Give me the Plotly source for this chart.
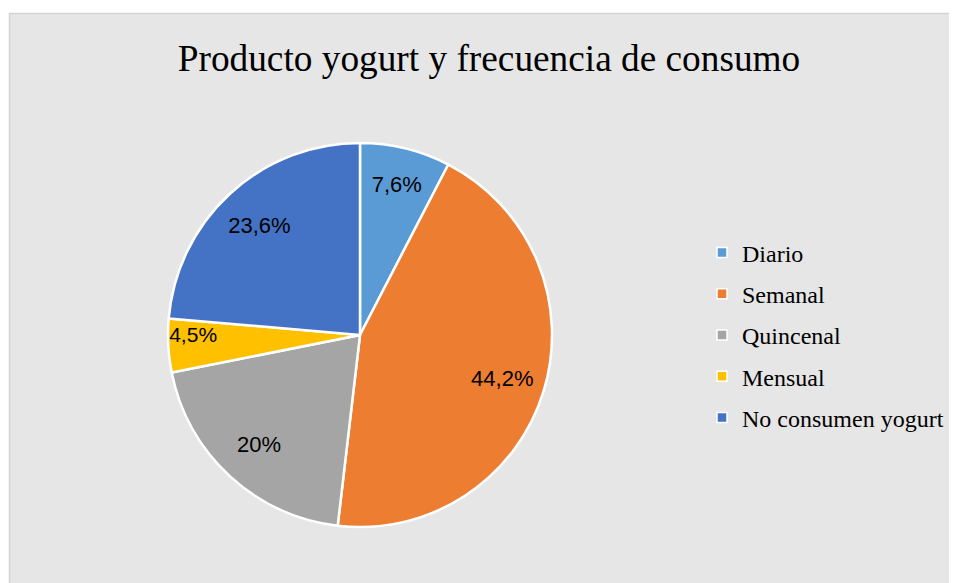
import plotly.graph_objects as go

categories = ["Diario", "Semanal", "Quincenal", "Mensual", "No consumen yogurt"]
values = [7.6, 44.2, 20, 4.5, 23.6]
colors = ["#5B9BD5", "#ED7D31", "#A5A5A5", "#FFC000", "#4472C4"]
title_text = "Producto yogurt y frecuencia de consumo"

labels_text = [(f"{v:g}".replace(".", ",") + "%") for v in values]

OFF = 8  # page body margin
W, H = 957, 583 - OFF
bg = "#e6e6e6"
cx, cy, R = 360 - OFF, 335 - OFF, 192  # pie centre / radius in figure px
big = [v >= 15 for v in values]

dom = dict(x=[(cx - R) / W, (cx + R) / W], y=[(H - cy - R) / H, (H - cy + R) / H])
label_font = dict(family="Liberation Sans, Arial, sans-serif", size=22, color="#000000")

fig = go.Figure()
# visible pie (labels for small slices)
fig.add_trace(go.Pie(
    labels=categories, values=values,
    text=[t if not b else "" for t, b in zip(labels_text, big)],
    texttemplate="%{text}", textinfo="text", textposition="inside",
    insidetextorientation="horizontal", insidetextfont=label_font,
    marker=dict(colors=colors, line=dict(color="#ffffff", width=2.5)),
    sort=False, direction="clockwise", rotation=0,
    hoverinfo="label+percent", showlegend=False, domain=dom,
))
# transparent ring overlay to place labels of large slices further out
fig.add_trace(go.Pie(
    labels=categories, values=values, hole=0.55,
    text=[t if b else "" for t, b in zip(labels_text, big)],
    texttemplate="%{text}", textinfo="text", textposition="inside",
    insidetextorientation="horizontal", insidetextfont=label_font,
    marker=dict(colors=["rgba(0,0,0,0)"] * len(values), line=dict(width=0)),
    sort=False, direction="clockwise", rotation=0,
    hoverinfo="skip", showlegend=False, domain=dom,
))
# legend entries
for c, col in zip(categories, colors):
    fig.add_trace(go.Scatter(
        x=[None], y=[None], mode="markers", name=c, legendgroup=c,
        marker=dict(symbol="square", size=10, color=col, line=dict(color="#ffffff", width=1.5)),
    ))

fig.update_layout(
    width=W, height=H,
    margin=dict(l=0, r=0, t=0, b=0),
    paper_bgcolor=bg, plot_bgcolor=bg,
    xaxis=dict(visible=False), yaxis=dict(visible=False),
    title=dict(text=title_text, x=(489 - OFF) / W, xanchor="center", y=(H - (58 - OFF)) / H, yanchor="middle",
               font=dict(family="Liberation Serif, Times New Roman, serif", size=37.3, color="#000000")),
    legend=dict(x=694 / W, xanchor="left", y=(H - cy) / H, yanchor="middle",
                font=dict(family="Liberation Serif, Times New Roman, serif", size=24, color="#000000"),
                bgcolor="rgba(0,0,0,0)", itemwidth=30, tracegroupgap=7, itemclick=False),
    shapes=[
        dict(type="rect", xref="paper", yref="paper", x0=-0.01, x1=1.01, y0=(H - (13 - OFF)) / H, y1=1.01,
             fillcolor="#ffffff", line=dict(width=0), layer="below"),
        dict(type="rect", xref="paper", yref="paper", x0=-0.01, x1=(9 - OFF) / W, y0=-0.01, y1=1.01,
             fillcolor="#ffffff", line=dict(width=0), layer="below"),
        dict(type="rect", xref="paper", yref="paper", x0=(9.5 - OFF) / W, x1=(956.5 - OFF) / W,
             y0=-0.05, y1=(H - (13.5 - OFF)) / H,
             fillcolor="rgba(0,0,0,0)", line=dict(color="#d4d4d4", width=1.5), layer="below"),
        dict(type="rect", xref="paper", yref="paper", x0=(957 - OFF) / W, x1=1.01,
             y0=-0.05, y1=1.01, fillcolor="#ffffff", line=dict(width=0), layer="below"),
    ],
)

fig.write_html("out.html")
